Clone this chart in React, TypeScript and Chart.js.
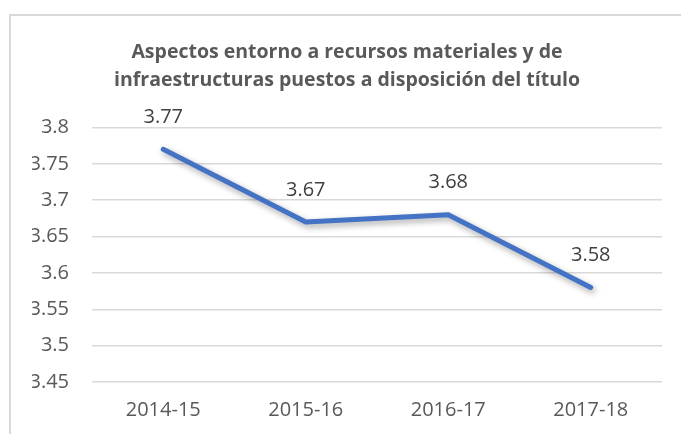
import React, { useEffect, useRef } from "react";
import { Chart, registerables } from "chart.js";

Chart.register(...registerables);

const categories = ["2014-15", "2015-16", "2016-17", "2017-18"];
const values = [3.77, 3.67, 3.68, 3.58];
const titleLines = [
  "Aspectos entorno a recursos materiales y de",
  "infraestructuras puestos a disposición del título",
];
const yMin = 3.45;
const yMax = 3.8;
const yStep = 0.05;

const FONT = '"Open Sans", "Noto Sans", sans-serif';

const lineShadow = {
  id: "lineShadow",
  beforeDatasetDraw(chart: any) {
    const ctx = chart.ctx;
    ctx.save();
    ctx.shadowColor = "rgba(0,0,0,0.35)";
    ctx.shadowBlur = 6;
    ctx.shadowOffsetX = 2;
    ctx.shadowOffsetY = 3;
  },
  afterDatasetDraw(chart: any) {
    chart.ctx.restore();
  },
};

const dataLabels = {
  id: "dataLabels",
  afterDatasetsDraw(chart: any) {
    const ctx = chart.ctx;
    const meta = chart.getDatasetMeta(0);
    const data = chart.data.datasets[0].data;
    ctx.save();
    ctx.font = `20px ${FONT}`;
    ctx.fillStyle = "#404040";
    ctx.textAlign = "center";
    ctx.textBaseline = "middle";
    meta.data.forEach((pt: any, i: number) => {
      ctx.fillText(String(data[i]), pt.x, pt.y - 32);
    });
    ctx.restore();
  },
};

export default function App() {
  const ref = useRef<HTMLCanvasElement | null>(null);

  useEffect(() => {
    if (!ref.current) return;
    const chart = new Chart(ref.current, {
      type: "line",
      data: {
        labels: categories,
        datasets: [
          {
            data: values,
            borderColor: "#4472C4",
            borderWidth: 5,
            borderCapStyle: "round",
            borderJoinStyle: "round",
            pointRadius: 0,
            pointHoverRadius: 0,
            tension: 0,
            fill: false,
          },
        ],
      },
      options: {
        animation: false,
        responsive: false,
        layout: { padding: { left: 32, right: 19, top: 0, bottom: 0 } },
        plugins: {
          legend: { display: false },
          tooltip: { enabled: false },
          title: {
            display: true,
            text: titleLines,
            color: "#595959",
            font: { family: FONT, size: 19.5, weight: "bold", lineHeight: 28 / 19.5 },
            padding: { top: 38, bottom: 33.5 },
          },
        },
        scales: {
          x: {
            offset: true,
            grid: { display: false, drawTicks: false, offset: true },
            border: { display: false },
            ticks: {
              color: "#595959",
              font: { family: FONT, size: 20 },
              padding: 16,
            },
            afterFit(scale: any) {
              scale.height = 52;
            },
          },
          y: {
            min: yMin,
            max: yMax,
            grid: { color: "#d9d9d9", lineWidth: 1.5, drawTicks: false },
            border: { display: false },
            ticks: {
              stepSize: yStep,
              color: "#595959",
              font: { family: FONT, size: 20 },
              padding: 23,
              callback: (v: any) => String(Number(Number(v).toFixed(2))),
            },
            afterFit(scale: any) {
              scale.width = 60;
            },
          },
        },
      },
      plugins: [lineShadow, dataLabels],
    });
    return () => chart.destroy();
  }, []);

  return (
    <div
      style={{
        position: "fixed",
        left: 0,
        top: 0,
        width: 681,
        height: 434,
        overflow: "hidden",
        background: "#ffffff",
      }}
    >
      <div
        style={{
          position: "absolute",
          left: 9,
          top: 14,
          width: 800,
          height: 800,
          border: "2px solid #d9d9d9",
          boxSizing: "border-box",
        }}
      />
      <canvas
        ref={ref}
        width={681}
        height={434}
        style={{ position: "absolute", left: 0, top: 0, width: 681, height: 434 }}
      />
    </div>
  );
}
